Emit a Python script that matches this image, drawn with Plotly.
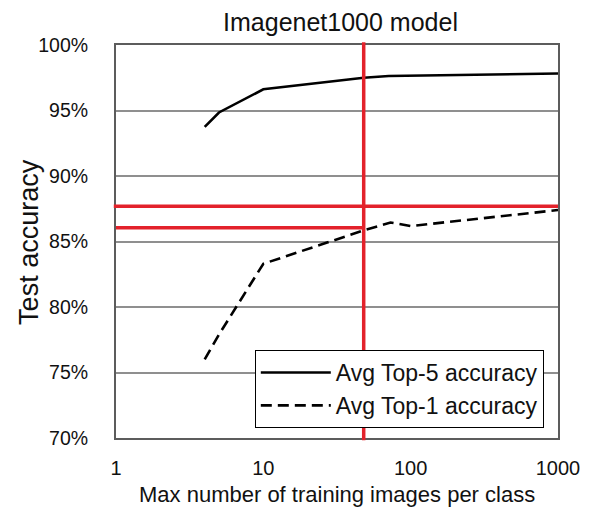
import plotly.graph_objects as go

# Average accuracy vs. max number of training images per class
top5_x = [4, 5, 10, 48, 71, 1000]
top5_y = [93.75, 94.85, 96.62, 97.50, 97.63, 97.82]

top1_x = [4, 5, 10, 48, 73, 100, 1000]
top1_y = [76.0, 77.9, 83.3, 85.85, 86.45, 86.18, 87.4]

# Reference markers (red guide lines)
guide_x = 48
guide_y_high = 87.7
guide_y_low = 86.05

x_ticks = [1, 10, 100, 1000]
x_tick_text = ["1", "10", "100", "1000"]
y_ticks = [70, 75, 80, 85, 90, 95, 100]
y_tick_text = [f"{v}%" for v in y_ticks]

FONT = "Liberation Sans, Arial, Helvetica, sans-serif"
RED = "#E3222B"

fig = go.Figure()
fig.add_trace(go.Scatter(
    x=top5_x, y=top5_y, mode="lines", name="Avg Top-5 accuracy",
    line=dict(color="black", width=2.6),
))
fig.add_trace(go.Scatter(
    x=top1_x, y=top1_y, mode="lines", name="Avg Top-1 accuracy",
    line=dict(color="black", width=2.6, dash="11px,6px"),
))

# Red guide lines
fig.add_shape(type="line", xref="x", yref="paper", x0=guide_x, x1=guide_x,
              y0=-0.006, y1=1.007, line=dict(color=RED, width=3.5), layer="above")
fig.add_shape(type="line", xref="paper", yref="y", x0=-0.005, x1=1.0,
              y0=guide_y_high, y1=guide_y_high, line=dict(color=RED, width=3.5), layer="above")
fig.add_shape(type="line", xref="x", yref="y", x0=0.98, x1=guide_x,
              y0=guide_y_low, y1=guide_y_low, line=dict(color=RED, width=3.5), layer="above")

fig.update_layout(
    width=592, height=514,
    margin=dict(l=116, r=27, t=45, b=76),
    paper_bgcolor="white", plot_bgcolor="white",
    font=dict(family=FONT, color="#111111", size=19),
    title=dict(text="Imagenet1000 model", x=(116 + 565) / 2 / 592, xanchor="center",
               y=1 - 22 / 514, yanchor="middle", font=dict(size=25, family=FONT)),
    xaxis=dict(
        type="log", range=[0, 3], tickvals=x_ticks, ticktext=x_tick_text,
        showgrid=False, zeroline=False,
        showline=True, mirror=True, linecolor="#5c5c5c", linewidth=2,
        ticks="", ticklabelstandoff=11, tickfont=dict(size=20),
    ),
    yaxis=dict(
        range=[70, 100], tickvals=y_ticks, ticktext=y_tick_text,
        showgrid=True, gridcolor="#8f8f8f", gridwidth=1.5, zeroline=False,
        showline=True, mirror=True, linecolor="#5c5c5c", linewidth=2,
        ticks="", ticklabelstandoff=22, tickfont=dict(size=19.5),
    ),
    legend=dict(
        x=(257 - 116) / 449, y=(438 - 350) / 393, xanchor="left", yanchor="top",
        bgcolor="white", bordercolor="black", borderwidth=1,
        font=dict(size=23, family=FONT), itemwidth=70, tracegroupgap=0,
    ),
    annotations=[
        dict(text="Test accuracy", xref="paper", yref="paper",
             x=(27 - 116) / 449, y=0.5, xanchor="center", yanchor="middle",
             textangle=-90, showarrow=False, font=dict(size=27, family=FONT)),
        dict(text="Max number of training images per class", xref="paper", yref="paper",
             x=0.5, y=-(495 - 438) / 393, xanchor="center", yanchor="middle",
             showarrow=False, font=dict(size=22, family=FONT)),
    ],
)

fig.write_html("out.html")
